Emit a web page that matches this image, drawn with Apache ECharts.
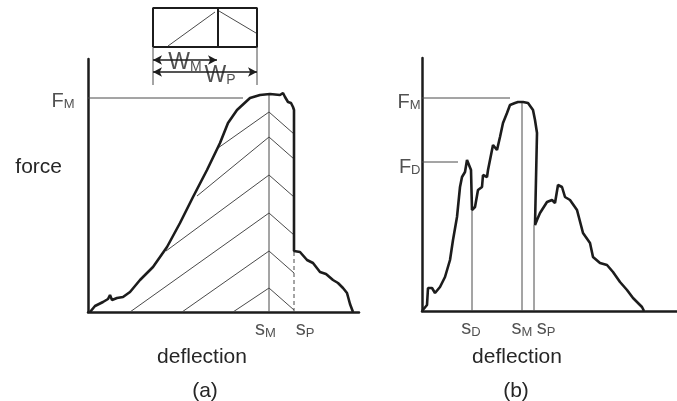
<!DOCTYPE html>
<html>
<head>
<meta charset="utf-8">
<script src="https://cdn.jsdelivr.net/npm/echarts@6/dist/echarts.min.js"></script>
<style>
  html, body {margin: 0; padding: 0; background: #fff;}
  #chart {width: 677px; height: 401px;}
</style>
</head>
<body>
<div id="chart"></div>
<script>
// (a) force-deflection curve, arbitrary units
var curveA = [[0.2,0],[0.7,0.6],[1.5,1.0],[2.0,1.3],[2.2,1.7],[2.4,1.2],[2.9,1.4],[3.5,1.5],[4.2,2.0],[5.2,3.2],[6.5,4.5],[7.9,6.5],[9.2,8.9],[10.5,11.5],[11.9,14.2],[13.2,16.9],[14.0,18.9],[14.9,20.2],[16.2,21.4],[17.2,21.7],[18.2,21.8],[19.2,21.7],[19.5,21.9],[19.7,21.5],[20.0,21.0],[20.3,20.9],[20.5,20.5],[20.6,20.2],[20.6,6.1],[21.2,6.0],[21.9,5.2],[22.5,4.9],[23.2,4.0],[23.8,3.8],[24.5,3.2],[25.0,2.9],[25.5,2.4],[25.9,1.9],[26.2,0.8],[26.5,0]];
var fmA = 21.4;
var smA = 18.1;
var smTopA = 21.7;
var spA = 20.6;
var spTopA = 6.1;
// hatching chevrons: apex on sM, left end on curve/axis, right end on sP
var hatchApexA = [20.0, 17.5, 13.7, 9.9, 6.1, 2.4];
var hatchLeftA = [[13.0,16.4],[10.9,11.6],[7.8,6.1],[4.2,0],[9.4,0],[14.5,0]];
var hatchRightA = [17.8, 15.3, 11.5, 7.7, 3.9, 0.2];

// (b) force-deflection curve
var curveB = [[0,0],[0.5,0.6],[0.6,2.3],[1.0,2.3],[1.3,1.8],[1.8,2.4],[2.3,3.4],[2.8,5.1],[3.1,7.1],[3.5,9.4],[3.8,12.4],[4.0,13.4],[4.3,13.9],[4.5,15.1],[4.7,15.1],[4.9,14.1],[5.0,10.1],[5.3,10.4],[5.6,12.1],[6.0,12.4],[6.1,13.6],[6.5,13.4],[6.6,14.1],[7.0,16.1],[7.1,16.6],[7.5,16.1],[7.8,17.4],[8.1,18.8],[8.5,19.8],[8.8,20.6],[9.3,20.8],[9.6,20.9],[10.1,20.9],[10.6,20.8],[11.1,20.1],[11.3,19.1],[11.5,17.8],[11.3,8.6],[11.5,9.1],[11.8,9.8],[12.5,10.9],[13.0,11.1],[13.3,10.8],[13.6,12.6],[14.0,12.4],[14.3,11.4],[14.8,11.1],[15.5,10.1],[16.1,7.8],[16.8,6.8],[17.1,5.4],[17.8,4.8],[18.5,4.6],[19.1,3.9],[19.8,2.9],[20.5,2.1],[21.1,1.3],[22.0,0.4],[22.2,0]];
var fmB = 21.3;
var fmLineEndB = 8.8;
var fdB = 14.9;
var fdLineEndB = 3.6;
var sdB = 5.0, sdTopB = 10.1;
var smB = 10.0, smTopB = 20.9;
var spB = 11.2, spTopB = 8.6;

// specimen sketch above (a)
var boxOutline = [[0,3.8],[10.4,3.8],[10.4,7.7],[0,7.7],[0,3.8]];
var boxDivider = 6.5;
var diagLeft = [[1.5,3.9],[6.2,7.3]];
var diagRight = [[6.6,7.4],[10.3,5.2]];
var widthM = 6.4, widthP = 10.4;
var arrowYM = 2.5, arrowYP = 1.3;

var ink = '#1c1c1c';
var thin = '#4a4a4a';
var textColor = '#262626';

var chart = echarts.init(document.getElementById('chart'));

function lineSeries(g, data, width, color, dash) {
    return {
        type: 'line', xAxisIndex: g, yAxisIndex: g, data: data,
        symbol: 'none', clip: false, silent: true, animation: false,
        lineStyle: {width: width, color: color, type: dash || 'solid'}
    };
}

var rich = {
    m: {fontSize: 20, lineHeight: 22, verticalAlign: 'bottom', color: textColor, fontFamily: 'Liberation Sans'},
    s: {fontSize: 13, lineHeight: 14, verticalAlign: 'bottom', color: textColor, fontFamily: 'Liberation Sans'},
    w: {fontSize: 23, lineHeight: 24, verticalAlign: 'bottom', color: textColor, fontFamily: 'Liberation Sans'},
    ws: {fontSize: 14, lineHeight: 15, verticalAlign: 'bottom', color: textColor, fontFamily: 'Liberation Sans'}
};

function sub(main, subText, big) {
    return big ? '{w|' + main + '}{ws|' + subText + '}' : '{m|' + main + '}{s|' + subText + '}';
}

function labelSeries(g, point, text, position, distance, offset) {
    return {
        type: 'scatter', xAxisIndex: g, yAxisIndex: g, data: [point],
        symbolSize: 1, clip: false, silent: true, animation: false,
        itemStyle: {color: 'rgba(0,0,0,0)'},
        label: {show: true, position: position, distance: distance, offset: offset || [0, 0],
            formatter: text, rich: rich}
    };
}

var series = [];
// (a)
series.push(lineSeries(0, [[0, fmA], [15.5, fmA]], 1, thin));
series.push(lineSeries(0, [[smA, 0], [smA, smTopA]], 1, thin));
series.push(lineSeries(0, [[spA, 0], [spA, spTopA]], 1, thin, [4, 3]));
hatchApexA.forEach(function (apex, i) {
    series.push(lineSeries(0, [hatchLeftA[i], [smA, apex], [spA, hatchRightA[i]]], 1, thin));
});
series.push(lineSeries(0, curveA, 2.6, ink));
series.push(labelSeries(0, [0, fmA], sub('F', 'M'), 'left', 13, [0, 2]));
series.push(labelSeries(0, [smA, 0], sub('s', 'M'), 'bottom', 5, [-3.5, 0]));
series.push(labelSeries(0, [spA, 0], sub('s', 'P'), 'bottom', 5, [11, 0]));

// (b)
series.push(lineSeries(1, [[0, fmB], [fmLineEndB, fmB]], 1, thin));
series.push(lineSeries(1, [[0, fdB], [fdLineEndB, fdB]], 1, thin));
series.push(lineSeries(1, [[sdB, 0], [sdB, sdTopB]], 1, thin));
series.push(lineSeries(1, [[smB, 0], [smB, smTopB]], 1, thin));
series.push(lineSeries(1, [[spB, 0], [spB, spTopB]], 1, thin));
series.push(lineSeries(1, curveB, 2.6, ink));
series.push(labelSeries(1, [0, fmB], sub('F', 'M'), 'left', 1, [0, 3]));
series.push(labelSeries(1, [0, fdB], sub('F', 'D'), 'left', 1, [0, 4]));
series.push(labelSeries(1, [sdB, 0], sub('s', 'D'), 'bottom', 5, [-1, 0]));
series.push(labelSeries(1, [smB, 0], sub('s', 'M'), 'bottom', 5, [0, 0]));
series.push(labelSeries(1, [spB, 0], sub('s', 'P'), 'bottom', 5, [12, 0]));

// sketch
series.push(lineSeries(2, boxOutline, 2, ink));
series.push(lineSeries(2, [[boxDivider, 3.8], [boxDivider, 7.7]], 2, ink));
series.push(lineSeries(2, diagLeft, 1, thin));
series.push(lineSeries(2, diagRight, 1, thin));
series.push(lineSeries(2, [[0, 0], [0, 3.8]], 1, thin));
series.push(lineSeries(2, [[widthP, 0], [widthP, 3.8]], 1, thin));
series.push({
    type: 'line', xAxisIndex: 2, yAxisIndex: 2, data: [], symbol: 'none', silent: true, animation: false,
    markLine: {
        silent: true, animation: false, symbol: ['arrow', 'arrow'], symbolSize: [7, 9],
        label: {show: false},
        lineStyle: {color: ink, width: 1.5, type: 'solid'},
        data: [
            [{coord: [0, arrowYM]}, {coord: [widthM, arrowYM]}],
            [{coord: [0, arrowYP]}, {coord: [widthP, arrowYP]}]
        ]
    }
});
series.push(labelSeries(2, [widthM / 2, arrowYM], sub('W', 'M', true), 'inside', 0, [0, 2]));
series.push(labelSeries(2, [widthP / 2, arrowYP], sub('W', 'P', true), 'inside', 0, [15, 3]));

function axis(max, show) {
    return {
        type: 'value', min: 0, max: max,
        axisLine: {show: show, onZero: false, lineStyle: {color: ink, width: 2.5}},
        axisTick: {show: false}, axisLabel: {show: false}, splitLine: {show: false}
    };
}

var bigText = {fontSize: 21, fill: textColor, fontFamily: 'Liberation Sans'};
function txt(x, y, s, align) {
    return {type: 'text', x: x, y: y, silent: true,
        style: Object.assign({text: s, align: align || 'center', verticalAlign: 'middle'}, bigText)};
}

chart.setOption({
    animation: false,
    backgroundColor: '#fff',
    grid: [
        {left: 88, top: 59, width: 271, height: 253},
        {left: 422, top: 58, width: 255, height: 253},
        {left: 153, top: 8, width: 104, height: 77}
    ],
    xAxis: [
        Object.assign(axis(27.1, true), {gridIndex: 0}),
        Object.assign(axis(25.5, true), {gridIndex: 1}),
        Object.assign(axis(10.4, false), {gridIndex: 2})
    ],
    yAxis: [
        Object.assign(axis(25.3, true), {gridIndex: 0}),
        Object.assign(axis(25.3, true), {gridIndex: 1}),
        Object.assign(axis(7.7, false), {gridIndex: 2})
    ],
    graphic: [
        txt(62, 167, 'force', 'right'),
        txt(202, 357, 'deflection'),
        txt(205, 391, '(a)'),
        txt(517, 357, 'deflection'),
        txt(516, 391, '(b)')
    ],
    series: series
});
</script>
</body>
</html>
